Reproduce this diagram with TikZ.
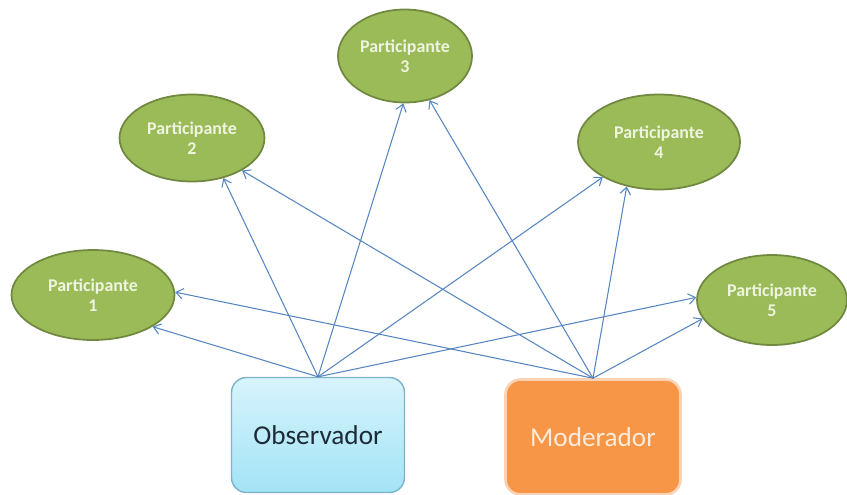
\documentclass[tikz,border=0pt]{standalone}
\usepackage{fontspec}
\setmainfont{Carlito}
\usetikzlibrary{shapes.geometric,arrows.meta}
\definecolor{partfill}{HTML}{9BBB59}
\definecolor{partline}{HTML}{71893F}
\definecolor{parttext}{HTML}{EEF4E0}
\definecolor{obstop}{HTML}{D8F4FC}
\definecolor{obsbot}{HTML}{A2E3F6}
\definecolor{obsline}{HTML}{7DB3C8}
\definecolor{obstext}{HTML}{1C2A36}
\definecolor{modfill}{HTML}{F79646}
\definecolor{modline}{HTML}{FBD3B4}
\definecolor{modtext}{HTML}{FDEBDD}
\definecolor{linkcol}{HTML}{5685C0}
\begin{document}
\begin{tikzpicture}[x=0.02cm, y=-0.02cm,
    part/.style={draw=partline, line width=1pt, ellipse, fill=partfill, text=parttext,
        font=\fontsize{10.2}{11.5}\selectfont\bfseries, align=center, inner sep=0pt},
    rolebox/.style={rounded corners=0.3cm, minimum width=3.46cm, minimum height=2.3cm,
        font=\fontsize{15.5}{18}\selectfont},
    link/.style={draw=linkcol, line width=0.6pt, -{Straight Barb[length=4pt,width=6pt]}}]

    \useasboundingbox (0,0) rectangle (847,494);

    \node [part, minimum width=3.26cm, minimum height=1.8cm] at (93,295) (P1) {Participante\\1};
    \node [part, minimum width=2.9cm, minimum height=1.74cm] at (192,138) (P2) {Participante\\2};
    \node [part, minimum width=2.68cm, minimum height=1.86cm] at (405,56) (P3) {Participante\\3};
    \node [part, minimum width=3.24cm, minimum height=1.9cm] at (659,142) (P4) {Participante\\4};
    \node [part, minimum width=3.0cm, minimum height=1.8cm] at (772,300) (P5) {Participante\\5};

    \node [rolebox, draw=obsline, line width=0.8pt, top color=obstop, bottom color=obsbot, text=obstext] at (318,435) (Obs) {Observador};
    \node [rolebox, draw=modline, line width=1.5pt, fill=modfill, text=modtext, minimum width=3.5cm] at (593,437) (Mod) {Moderador};

    \path [link] (Obs.north) -- (P1.-28);
    \path [link] (Obs.north) -- (P2.-52);
    \path [link] (Obs.north) -- (P3.-92);
    \path [link] (Obs.north) -- (P4.-148);
    \path [link] (Obs.north) -- (P5.178);

    \path [link] (Mod.north) -- (P1.2);
    \path [link] (Mod.north) -- (P2.-33);
    \path [link] (Mod.north) -- (P3.-61);
    \path [link] (Mod.north) -- (P4.-126);
    \path [link] (Mod.north) -- (P5.-165);

\end{tikzpicture}
\end{document}
